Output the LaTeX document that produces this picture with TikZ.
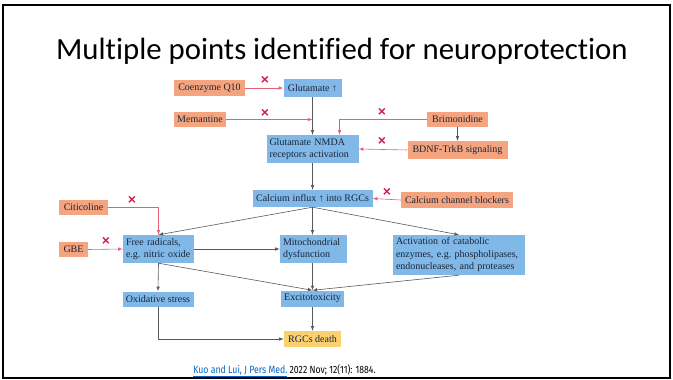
\documentclass[tikz,border=0pt]{standalone}
\usepackage{fontspec}
\setmainfont{Liberation Serif}
\newfontfamily\titrefont[Ligatures=NoCommon]{Carlito}
\newfontfamily\sourcefont{Fira Sans}
\newfontfamily\croixfont{Liberation Sans}
\usetikzlibrary{calc}
\usetikzlibrary{arrows}

\definecolor{orangeclair}{RGB}{244,164,126}
\definecolor{bleuclair}{RGB}{128,184,232}
\definecolor{jaune}{RGB}{251,208,112}
\definecolor{rouge}{RGB}{230,95,120}
\definecolor{croixrouge}{RGB}{204,32,72}
\definecolor{texte}{RGB}{28,36,56}
\definecolor{lien}{RGB}{5,99,193}

\tikzstyle{boite}  =[inner sep=0pt, inner xsep=3pt, text=texte, font=\fontsize{10}{12.5}\selectfont]
\tikzstyle{drogue} =[boite, fill=orangeclair]
\tikzstyle{etape}  =[boite, fill=bleuclair]
\tikzstyle{mort}   =[boite, fill=jaune]
\tikzstyle{fleche} =[draw=black!65, line width=0.6pt, -latex]
\tikzstyle{inhib}  =[draw=rouge, line width=0.6pt, -latex]
\tikzstyle{croix}  =[text=croixrouge, font=\croixfont\bfseries\fontsize{14}{14}\selectfont, inner sep=0pt]

\begin{document}
\begin{tikzpicture}[x=1pt,y=-1pt]

\useasboundingbox (0,0) rectangle (673,380);
\draw[line width=2pt] (3,5) rectangle (670,378);

\node[font=\titrefont\fontsize{30.8}{36}\selectfont, anchor=base] (titre) at (342,59) {Multiple points identified for neuroprotection};

%%%%%%%%%%%%%%%%%%%%%%%%
%%%%%%%%%%%%%%%%%%%%%%%%
%Colonne centrale
%%%%%%%%%%%%%%%%%%%%%%%%
%%%%%%%%%%%%%%%%%%%%%%%%

\def \xcentre {312.5} %abscisse de la colonne centrale

\node[etape, minimum width=58, minimum height=18] (glu) at (\xcentre,88) {Glutamate ↑};
\node[etape, minimum height=28, text width=86, align=left] (nmda) at (\xcentre,149) {Glutamate NMDA\\receptors activation};
\node[etape, minimum width=120, minimum height=17] (ca) at (\xcentre,198.5) {Calcium influx ↑ into RGCs};
\node[etape, minimum height=28, text width=61, align=left] (mito) at (\xcentre+1,249) {Mitochondrial\\dysfunction};
\node[etape, minimum width=62, minimum height=16] (exc) at (\xcentre,298.5) {Excitotoxicity};
\node[mort, minimum width=57, minimum height=16] (mort) at (\xcentre,339) {RGCs death};

%%%%%%%%%%%%%%%%%%%%%%%%
%%%%%%%%%%%%%%%%%%%%%%%%
%Colonnes gauche et droite
%%%%%%%%%%%%%%%%%%%%%%%%
%%%%%%%%%%%%%%%%%%%%%%%%

\node[etape, minimum height=28, text width=65, align=left] (radic) at (158.5,249) {Free radicals,\\e.g.\ nitric oxide};
\node[etape, minimum width=71, minimum height=15] (oxy) at (158,299) {Oxidative stress};
\node[etape, minimum height=40, text width=126, align=left] (catab) at (459,255) {Activation of catabolic\\enzymes, e.g.\ phospholipases,\\endonucleases, and proteases};

%les molécules neuroprotectrices
\node[drogue, minimum width=71, minimum height=16] (coq) at (209.5,88) {Coenzyme Q10};
\node[drogue, minimum width=52, minimum height=15] (meman) at (200,119.5) {Memantine};
\node[drogue, minimum width=61, minimum height=15] (brimo) at (457.5,119.5) {Brimonidine};
\node[drogue, minimum width=100, minimum height=18] (bdnf) at (457.5,150) {BDNF-TrkB signaling};
\node[drogue, minimum width=112, minimum height=16] (bloq) at (457,200) {Calcium channel blockers};
\node[drogue, minimum width=49, minimum height=15] (citi) at (83.5,207.5) {Citicoline};
\node[drogue, minimum width=29, minimum height=15] (gbe) at (73.5,249.5) {GBE};

%%%%%%%%%%%%%%%%%%%%%%%%
%%%%%%%%%%%%%%%%%%%%%%%%
%Flèches
%%%%%%%%%%%%%%%%%%%%%%%%
%%%%%%%%%%%%%%%%%%%%%%%%

\draw[fleche] (glu.south)--(nmda.north);
\draw[fleche] (brimo.south)--(bdnf.north);
\draw[fleche] (nmda.south)--(ca.north);
\draw[fleche] (ca.south)--(radic.north);
\draw[fleche] (ca.south)--(mito.north-|ca.south);
\draw[fleche] (ca.south)--(catab.north);
\draw[fleche] (radic.east)--(mito.west);
\draw[fleche] (radic.south)--(oxy.north);
\draw[fleche] (radic.south)--(exc.north);
\draw[fleche] (mito.south-|exc.north)--(exc.north);
\draw[fleche] (catab.south)--(exc.north);
\draw[fleche] (exc.south)--(mort.north);
\draw[fleche] (oxy.south) |- (mort.west);

%inhibitions
\coordinate (arret) at (glu.south |- meman.east);
\coordinate (haut) at ($(nmda.north)+(27,0)$);
\draw[inhib] (coq.east)--(glu.west);
\draw[inhib] (meman.east)--(arret);
\draw[inhib] (brimo.west) -| (haut);
\draw[inhib] (bdnf.west)--(nmda.east);
\draw[inhib] (bloq.west)--(ca.east);
\draw[inhib] (citi.east) -| (radic.north);
\draw[inhib] (gbe.east)--(radic.west);

\node[croix] (x1) at (265,80) {×};
\node[croix] (x2) at (265,113) {×};
\node[croix] (x3) at (382,112) {×};
\node[croix] (x4) at (382,141) {×};
\node[croix] (x5) at (387,192) {×};
\node[croix] (x6) at (132,200) {×};
\node[croix] (x7) at (106,241) {×};

%source
\node[anchor=base, font=\sourcefont\fontsize{10.5}{12}\selectfont, inner sep=0pt] (source) at (284.5,373) {\scalebox{0.83}[1]{\textcolor{lien}{\underline{Kuo and Lui, J Pers Med.}} 2022 Nov; 12(11): 1884.}};

\end{tikzpicture}
\end{document}
